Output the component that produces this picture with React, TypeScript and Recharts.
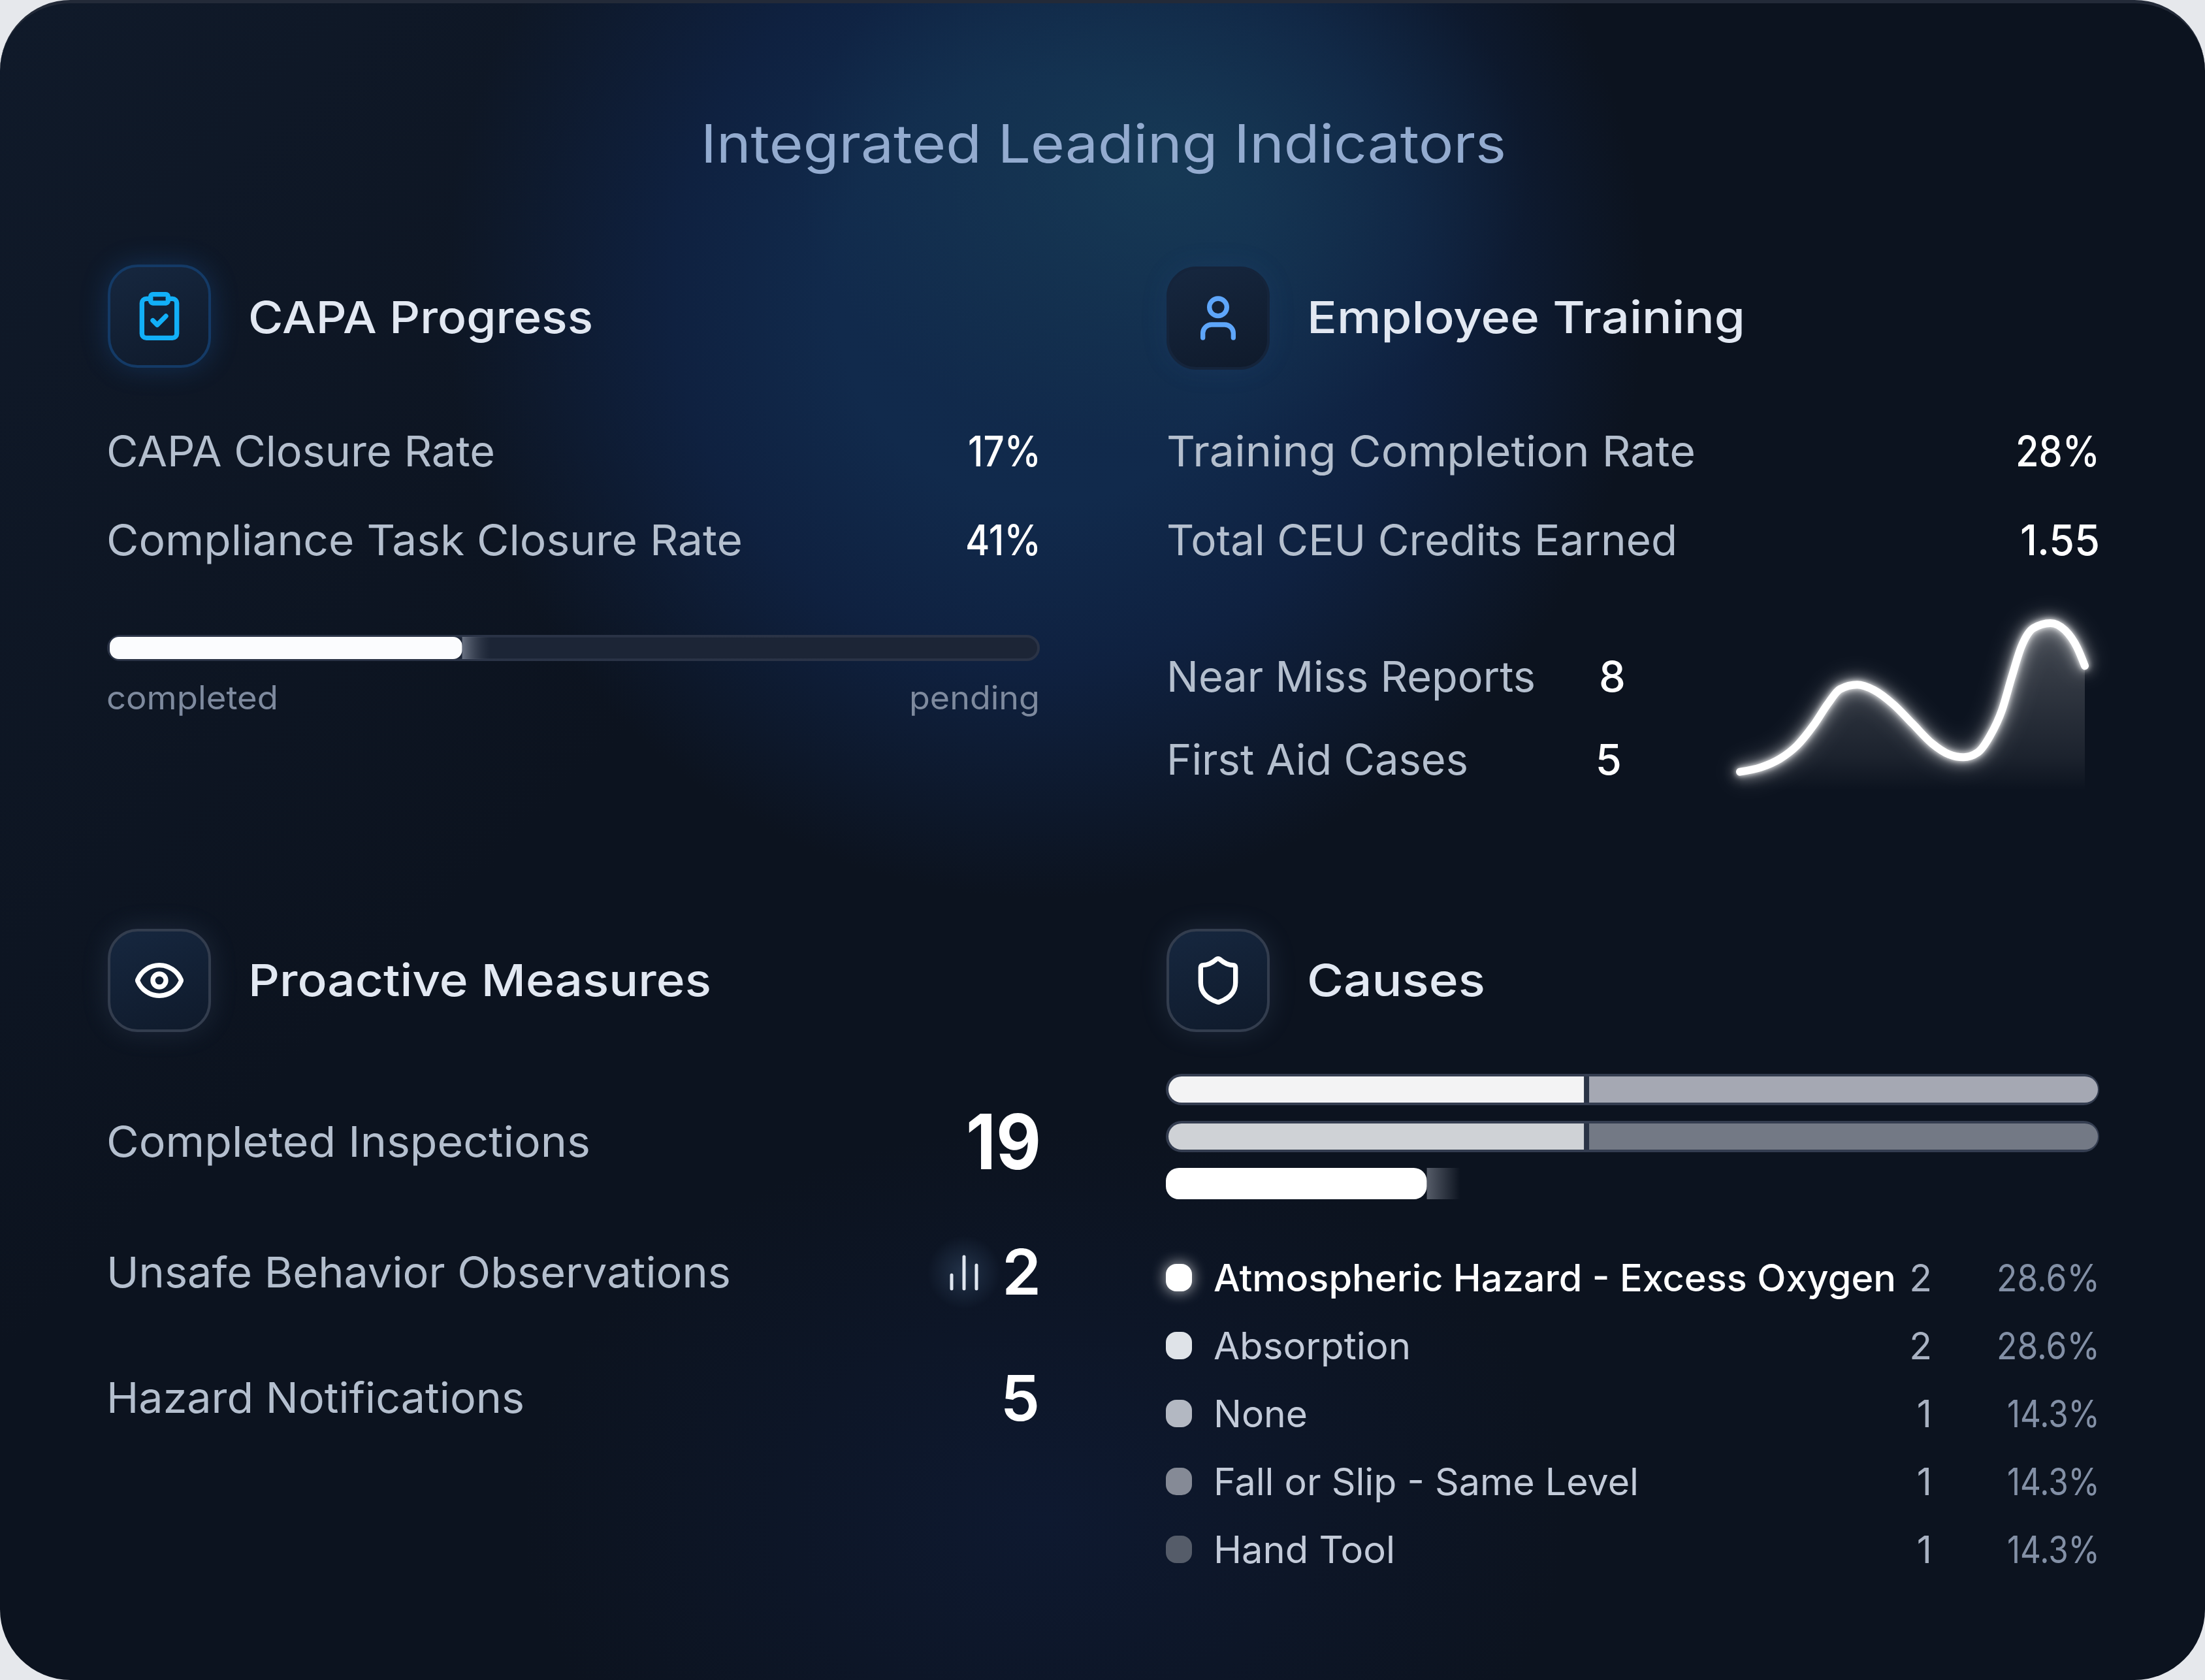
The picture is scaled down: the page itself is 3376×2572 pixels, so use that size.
import React from "react";
import { BarChart, Bar, XAxis, YAxis, ComposedChart, Area, Line, Rectangle } from "recharts";

const FONT = "Inter, sans-serif";

const closureRows = [
  { label: "CAPA Closure Rate", value: "17%" },
  { label: "Compliance Task Closure Rate", value: "41%" },
];
const trainingRows = [
  { label: "Training Completion Rate", value: "28%" },
  { label: "Total CEU Credits Earned", value: "1.55" },
];
const progressData = [{ name: "tasks", completed: 38, pending: 62 }];

const sparkX = [0, 6, 11.6, 16.5, 21.4, 25.6, 29, 34, 38.9, 44.5, 50.1, 55.7, 60.6, 64.8, 69, 72.5, 76, 78.8, 81.6, 85.1, 90, 94.3, 97.8, 100];
const sparkY = [10.9, 13.5, 18.6, 26.3, 38.5, 51.3, 59.6, 62.2, 59, 50.6, 39.1, 27.6, 21.2, 19.5, 22.4, 32, 47.4, 66.7, 84.6, 95.5, 98.5, 94.2, 84, 73.3];
const sparkData = sparkX.map((x, i) => ({ x, y: sparkY[i] }));

const causeRows = ["a", "b", "c"];
const causeFirst = [44.7, 44.7, 27.8];
const causeSecond = [55.3, 55.3, 3.6];
const causeData = causeRows.map((name, i) => ({ name, first: causeFirst[i], second: causeSecond[i] }));
const firstFills = ["#f3f3f4", "#cfd2d6", "#ffffff"];
const secondFills = ["#a5a8b3", "#737985", "url(#causeFade)"];

const causeNames = ["Atmospheric Hazard - Excess Oxygen", "Absorption", "None", "Fall or Slip - Same Level", "Hand Tool"];
const causeCounts = ["2", "2", "1", "1", "1"];
const causePercents = ["28.6%", "28.6%", "14.3%", "14.3%", "14.3%"];
const causeDots = ["#ffffff", "#dfe3e8", "#b3b8c2", "#858a96", "#555c69"];

function Txt({ x, y, w, size, weight = 400, fill, end, children }: any) {
  // y is the middle of the capitals, x nudged for the side bearing
  return (
    <text
      x={end ? x + 2 : x - 1}
      y={y + size * 0.36}
      fontFamily={FONT}
      fontSize={size}
      fontWeight={weight}
      fill={fill}
      textAnchor={end ? "end" : "start"}
      textLength={w ? w + 3 : undefined}
      lengthAdjust={w ? "spacingAndGlyphs" : undefined}
    >
      {children}
    </text>
  );
}

function IconBox({ x, y, border, glow, children }: any) {
  return (
    <div
      style={{
        position: "absolute",
        left: x,
        top: y,
        width: 158,
        height: 158,
        boxSizing: "border-box",
        borderRadius: 46,
        border: `4px solid ${border}`,
        background: "linear-gradient(160deg, #16273f 0%, #0f1a2b 100%)",
        boxShadow: `0 0 44px ${glow}`,
        display: "flex",
        alignItems: "center",
        justifyContent: "center",
      }}
    >
      {children}
    </div>
  );
}

function Icon({ color, children }: any) {
  return (
    <svg width={80} height={80} viewBox="0 0 24 24" fill="none" stroke={color} strokeWidth={2.2} strokeLinecap="round" strokeLinejoin="round">
      {children}
    </svg>
  );
}

function CauseBar(props: any) {
  const { x, y, width, height, index, dataKey } = props;
  const isFirst = dataKey === "first";
  if (index === 2) {
    // the last row has no track and sits a little taller
    return (
      <Rectangle
        x={isFirst ? x - 4 : x}
        y={y - 4}
        width={isFirst ? width + 4 : width}
        height={height + 8}
        fill={isFirst ? firstFills[2] : secondFills[2]}
        radius={isFirst ? 20 : 0}
      />
    );
  }
  const gap = isFirst ? 0 : 8;
  return (
    <Rectangle
      x={x + gap}
      y={y}
      width={width - gap}
      height={height}
      fill={isFirst ? firstFills[index] : secondFills[index]}
      radius={isFirst ? [20, 0, 0, 20] : [0, 20, 20, 0]}
    />
  );
}

function Track({ x, y, w, h, fill, border }: any) {
  return (
    <div
      style={{
        position: "absolute",
        left: x,
        top: y,
        width: w,
        height: h,
        boxSizing: "border-box",
        borderRadius: h / 2,
        background: fill,
        border: `4px solid ${border}`,
      }}
    />
  );
}

export default function App() {
  const label = "#b4bfce";
  const legend = "#c3cbd9";
  return (
    <div style={{ position: "absolute", left: 0, top: 0, width: 3376, height: 2572, background: "#e6e8ec", overflow: "hidden" }}>
      <style>{`.spark .recharts-line-curve{filter:drop-shadow(0 0 4px rgba(255,255,255,.95)) drop-shadow(0 0 10px rgba(255,255,255,.6)) drop-shadow(0 0 18px rgba(255,255,255,.25))}`}</style>
      <div
        style={{
          position: "absolute",
          inset: 0,
          boxSizing: "border-box",
          borderRadius: 108,
          borderTop: "5px solid #232a38",
          background:
            "radial-gradient(ellipse 560px 420px at 1780px 260px, rgba(24,62,88,.75) 0%, rgba(24,62,88,0) 100%)," +
            "radial-gradient(ellipse 920px 930px at 1600px 440px, #11294a 0%, #112a4c 35%, #0f2140 62%, rgba(12,19,31,0) 100%)," +
            "radial-gradient(ellipse 800px 600px at 1600px 2320px, #0e1930 0%, rgba(12,19,31,0) 100%)," +
            "linear-gradient(135deg, #101a2a 0%, #0c131f 35%, #0c131f 100%)",
        }}
      />

      <IconBox x={165} y={405} border="#143a66" glow="rgba(40,130,240,.22)">
        <Icon color="#12b0f8">
          <rect x="8" y="2" width="8" height="4" rx="1" />
          <path d="M16 4h2a2 2 0 0 1 2 2v14a2 2 0 0 1-2 2H6a2 2 0 0 1-2-2V6a2 2 0 0 1 2-2h2" />
          <path d="m9 14 2 2 4-4" />
        </Icon>
      </IconBox>
      <IconBox x={1786} y={408} border="#15243b" glow="rgba(60,110,200,.1)">
        <Icon color="#5ea6fa">
          <path d="M19 21v-2a4 4 0 0 0-4-4H9a4 4 0 0 0-4 4v2" />
          <circle cx="12" cy="7" r="4" />
        </Icon>
      </IconBox>
      <IconBox x={165} y={1422} border="#333d4e" glow="rgba(130,160,210,.14)">
        <Icon color="#ffffff">
          <path d="M2.062 12.348a1 1 0 0 1 0-.696 10.75 10.75 0 0 1 19.876 0 1 1 0 0 1 0 .696 10.75 10.75 0 0 1-19.876 0" />
          <circle cx="12" cy="12" r="3" />
        </Icon>
      </IconBox>
      <IconBox x={1786} y={1422} border="#333d4e" glow="rgba(130,160,210,.14)">
        <Icon color="#ffffff">
          <path d="M20 13c0 5-3.5 7.5-7.66 8.95a1 1 0 0 1-.67-.01C7.5 20.5 4 18 4 13V6a1 1 0 0 1 1-1c2 0 4.5-1.2 6.24-2.72a1.17 1.17 0 0 1 1.52 0C14.51 3.81 17 5 19 5a1 1 0 0 1 1 1z" />
        </Icon>
      </IconBox>

      <Track x={164} y={972} w={1428} h={40} fill="#1c2536" border="#2a3346" />
      <div style={{ position: "absolute", left: 168, top: 975 }}>
        <BarChart width={1420} height={34} data={progressData} layout="vertical" margin={{ top: 0, right: 0, bottom: 0, left: 0 }} barCategoryGap={0}>
          <defs>
            <linearGradient id="pendingFade" x1="0" y1="0" x2="1" y2="0">
              <stop offset="0%" stopColor="#8b93a3" stopOpacity={0.7} />
              <stop offset="5%" stopColor="#1c2536" stopOpacity={0.2} />
              <stop offset="100%" stopColor="#1c2536" stopOpacity={0} />
            </linearGradient>
          </defs>
          <XAxis type="number" domain={[0, 100]} hide />
          <YAxis type="category" dataKey="name" hide />
          <Bar dataKey="completed" stackId="a" fill="#fbfcfe" radius={[14, 14, 14, 14]} isAnimationActive={false} />
          <Bar dataKey="pending" stackId="a" fill="url(#pendingFade)" isAnimationActive={false} />
        </BarChart>
      </div>

      <div className="spark" style={{ position: "absolute", left: 2624, top: 910 }}>
        <ComposedChart width={608} height={340} data={sparkData} margin={{ top: 40, right: 40, bottom: 40, left: 40 }}>
          <defs>
            <linearGradient id="sparkFill" x1="0" y1="0" x2="0" y2="1">
              <stop offset="0%" stopColor="#ffffff" stopOpacity={0.38} />
              <stop offset="55%" stopColor="#ffffff" stopOpacity={0.19} />
              <stop offset="80%" stopColor="#ffffff" stopOpacity={0.11} />
              <stop offset="100%" stopColor="#ffffff" stopOpacity={0} />
            </linearGradient>
          </defs>
          <XAxis type="number" dataKey="x" domain={[0, 100]} hide />
          <YAxis type="number" domain={[0, 100]} hide />
          <Area type="monotone" dataKey="y" stroke="none" fill="url(#sparkFill)" isAnimationActive={false} />
          <Line type="monotone" dataKey="y" stroke="#ffffff" strokeWidth={12} strokeLinecap="round" dot={false} isAnimationActive={false} />
        </ComposedChart>
      </div>

      <Track x={1785} y={1644} w={1429} h={48} fill="#2a3345" border="#343d50" />
      <Track x={1785} y={1716} w={1429} h={48} fill="#2a3345" border="#343d50" />
      <div style={{ position: "absolute", left: 1781, top: 1632 }}>
        <BarChart width={1431} height={216} data={causeData} layout="vertical" margin={{ top: 0, right: 0, bottom: 0, left: 8 }} barCategoryGap={16} barSize={40}>
          <defs>
            <linearGradient id="causeFade" x1="0" y1="0" x2="1" y2="0">
              <stop offset="0%" stopColor="#7d8390" stopOpacity={0.65} />
              <stop offset="100%" stopColor="#7d8390" stopOpacity={0} />
            </linearGradient>
          </defs>
          <XAxis type="number" domain={[0, 100]} hide />
          <YAxis type="category" dataKey="name" hide />
          <Bar dataKey="first" stackId="c" shape={CauseBar} isAnimationActive={false} />
          <Bar dataKey="second" stackId="c" shape={CauseBar} isAnimationActive={false} />
        </BarChart>
      </div>

      {causeDots.map((c, i) => (
        <div
          key={c}
          style={{
            position: "absolute",
            left: 1785,
            top: 1956 + i * 104 - 21,
            width: 40,
            height: 42,
            borderRadius: 16,
            background: c,
            boxShadow: i === 0 ? "0 0 22px rgba(255,255,255,.75)" : "none",
          }}
        />
      ))}

      <svg width={3376} height={2572} style={{ position: "absolute", left: 0, top: 0, pointerEvents: "none" }}>
        <defs>
          <radialGradient id="barsGlow">
            <stop offset="0%" stopColor="#5b7fa8" stopOpacity={0.28} />
            <stop offset="100%" stopColor="#5b7fa8" stopOpacity={0} />
          </radialGradient>
        </defs>
        <Txt x={1074} y={220} w={1230} size={81} fill="#93abcf">Integrated Leading Indicators</Txt>

        <Txt x={381} y={486} w={525} size={68} weight={500} fill="#e2e8f2">CAPA Progress</Txt>
        <Txt x={2002} y={486} w={668} size={68} weight={500} fill="#e2e8f2">Employee Training</Txt>
        <Txt x={381} y={1501} w={706} size={68} weight={500} fill="#e2e8f2">Proactive Measures</Txt>
        <Txt x={2002} y={1501} w={270} size={68} weight={500} fill="#e2e8f2">Causes</Txt>

        <Txt x={164} y={691} w={592} size={65} fill={label}>{closureRows[0].label}</Txt>
        <Txt x={164} y={827} w={971} size={65} fill={label}>{closureRows[1].label}</Txt>
        <Txt x={1592} y={691} w={109} size={65} weight={500} fill="#ffffff" end>{closureRows[0].value}</Txt>
        <Txt x={1592} y={827} w={113} size={65} weight={500} fill="#ffffff" end>{closureRows[1].value}</Txt>
        <Txt x={1787} y={691} w={807} size={65} fill={label}>{trainingRows[0].label}</Txt>
        <Txt x={1787} y={827} w={779} size={65} fill={label}>{trainingRows[1].label}</Txt>
        <Txt x={3213} y={691} w={126} size={65} weight={500} fill="#ffffff" end>{trainingRows[0].value}</Txt>
        <Txt x={3213} y={827} w={119} size={65} weight={500} fill="#ffffff" end>{trainingRows[1].value}</Txt>

        <Txt x={164} y={1068} w={260} size={50} fill="#7e8a9e">completed</Txt>
        <Txt x={1590} y={1068} w={197} size={50} fill="#7e8a9e" end>pending</Txt>

        <Txt x={1787} y={1036} w={562} size={65} fill={label}>Near Miss Reports</Txt>
        <Txt x={2487} y={1036} size={65} weight={500} fill="#ffffff" end>8</Txt>
        <Txt x={1787} y={1163} w={459} size={65} fill={label}>First Aid Cases</Txt>
        <Txt x={2481} y={1163} size={65} weight={500} fill="#ffffff" end>5</Txt>

        <Txt x={164} y={1748} w={738} size={65} fill={label}>Completed Inspections</Txt>
        <Txt x={1592} y={1748} w={112} size={117} weight={700} fill="#ffffff" end>19</Txt>
        <Txt x={164} y={1948} w={953} size={65} fill={label}>Unsafe Behavior Observations</Txt>
        <Txt x={1592} y={1947} size={96} weight={600} fill="#ffffff" end>2</Txt>
        <Txt x={164} y={2140} w={637} size={65} fill={label}>Hazard Notifications</Txt>
        <Txt x={1590} y={2140} size={96} weight={600} fill="#ffffff" end>5</Txt>

        <circle cx={1476} cy={1948} r={56} fill="url(#barsGlow)" />
        <g stroke="#dfe6f0" strokeWidth={5} strokeLinecap="round">
          <line x1={1457} y1={1952} x2={1457} y2={1973} />
          <line x1={1476} y1={1924} x2={1476} y2={1973} />
          <line x1={1495} y1={1937} x2={1495} y2={1973} />
        </g>

        {causeNames.map((name, i) => {
          const widths = [1042, 299, 141, 648, 275];
          return (
            <g key={name}>
              <Txt x={1859} y={1956 + i * 104} w={widths[i]} size={57} weight={i === 0 ? 500 : 400} fill={i === 0 ? "#ffffff" : legend}>{name}</Txt>
              <Txt x={2956} y={1956 + i * 104} size={57} fill="#a9b2c2" end>{causeCounts[i]}</Txt>
              <Txt x={3213} y={1956 + i * 104} w={i < 2 ? 155 : 139} size={57} fill="#8390a6" end>{causePercents[i]}</Txt>
            </g>
          );
        })}
      </svg>
    </div>
  );
}
